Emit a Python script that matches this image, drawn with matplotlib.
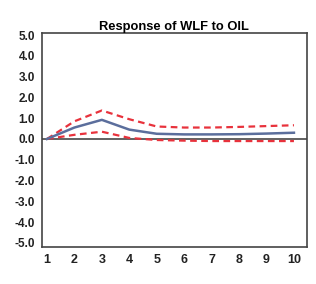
import numpy as np
import matplotlib
matplotlib.use("Agg")
import matplotlib.pyplot as plt

# Data
periods = [1, 2, 3, 4, 5, 6, 7, 8, 9, 10]
response = [0.0, 0.55, 0.92, 0.45, 0.25, 0.22, 0.22, 0.23, 0.26, 0.3]
upper = [0.0, 0.85, 1.37, 0.95, 0.6, 0.55, 0.55, 0.58, 0.62, 0.66]
lower = [0.0, 0.2, 0.35, 0.05, -0.05, -0.08, -0.1, -0.1, -0.1, -0.1]
yticks = [5, 4, 3, 2, 1, 0, -1, -2, -3, -4, -5]

plt.rcParams['font.family'] = ['Liberation Sans', 'DejaVu Sans']

fig = plt.figure(figsize=(3.16, 2.84), dpi=100)
ax = fig.add_axes([0.133, 0.13, 0.838, 0.754])

ax.axhline(0, color='#555555', lw=1.3)
ax.plot(periods, upper, color='#e8323c', lw=1.6, ls=(0, (3, 2)))
ax.plot(periods, lower, color='#e8323c', lw=1.6, ls=(0, (3, 2)))
ax.plot(periods, response, color='#5b6e9c', lw=1.8)

ax.set_xlim(0.82, 10.47)
ax.set_ylim(-5.2, 5.1)
ax.set_xticks(periods)
ax.set_xticklabels([str(p) for p in periods], fontsize=9, fontweight='bold', color='#222222')
ax.set_yticks(yticks)
ax.set_yticklabels([f"{v:.1f}" for v in yticks], fontsize=8.5, fontweight='bold', color='#222222')
ax.tick_params(length=0, pad=5)
for s in ax.spines.values():
    s.set_color('#444444')
    s.set_linewidth(1.2)

ax.set_title("Response of WLF to OIL", fontsize=9.3, fontweight='bold', pad=2)

fig.savefig("out.png", dpi=100)
